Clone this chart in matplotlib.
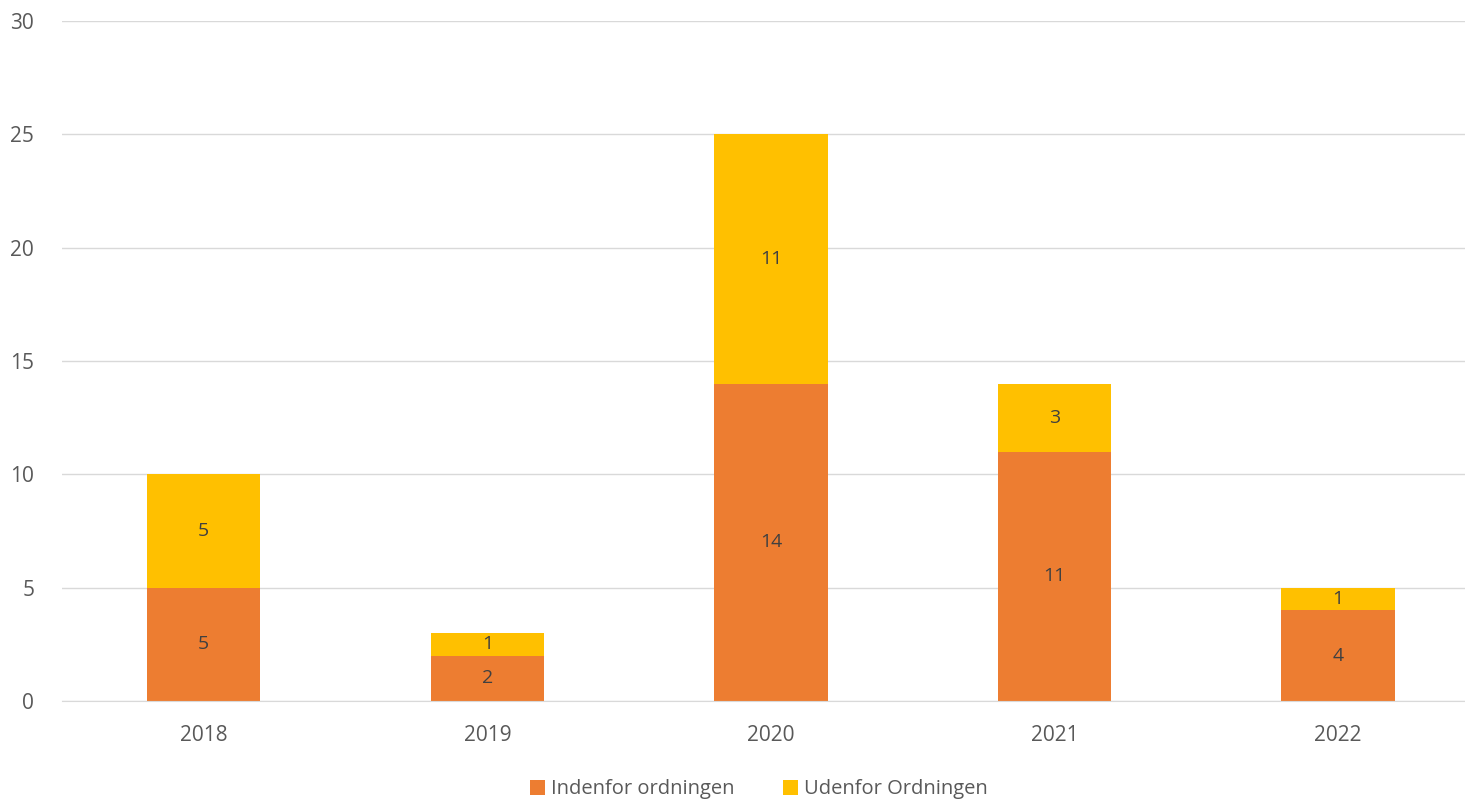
import matplotlib.pyplot as plt

plt.rcParams['font.family'] = ['Open Sans', 'DejaVu Sans']

years = ['2018', '2019', '2020', '2021', '2022']
indenfor = [5, 2, 14, 11, 4]
udenfor = [5, 1, 11, 3, 1]

c_in = '#ED7D31'
c_ud = '#FFC000'
txt = '#404040'

fig = plt.figure(figsize=(14.65, 8), dpi=100)
ax = fig.add_axes([62/1465, 1-701/800, 1-62/1465, (701-21)/800])

x = range(len(years))
w = 0.40
b1 = ax.bar(x, indenfor, w, color=c_in, label='Indenfor ordningen', zorder=2)
b2 = ax.bar(x, udenfor, w, bottom=indenfor, color=c_ud, label='Udenfor Ordningen', zorder=2)
ax.bar_label(b1, labels=[str(v) for v in indenfor], label_type='center', color=txt, fontsize=14)
ax.bar_label(b2, labels=[str(v) for v in udenfor], label_type='center', color=txt, fontsize=14)

ax.set_ylim(0, 30)
ax.set_yticks(range(0, 31, 5))
ax.set_xlim(-0.5, (1465-204)/283.5)
ax.set_xticks(list(x))
ax.set_xticklabels(years)
ax.grid(axis='y', color='#D9D9D9', linewidth=1, zorder=0)
for s in ['top', 'right', 'left']:
    ax.spines[s].set_visible(False)
ax.spines['bottom'].set_color('#D9D9D9')
ax.tick_params(axis='both', length=0, labelsize=15, colors='#595959', pad=17)
ax.tick_params(axis='y', pad=20)

fig.legend(loc='lower center', bbox_to_anchor=(0.518, -0.022), ncol=2, frameon=False,
           fontsize=14.5, handlelength=0.75, handleheight=0.75, columnspacing=2.4,
           handletextpad=0.3, labelcolor='#595959')

fig.savefig('out.png', dpi=100)
